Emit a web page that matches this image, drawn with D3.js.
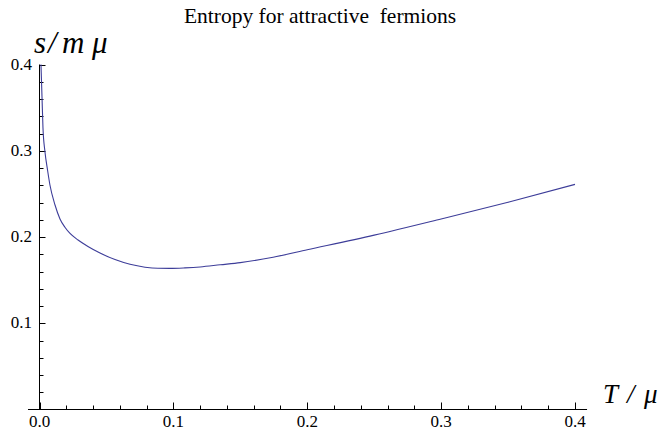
<!DOCTYPE html>
<html>
<head>
<meta charset="utf-8">
<script src="https://cdn.jsdelivr.net/npm/d3@7"></script>
<style>
  html, body { margin: 0; padding: 0; background: #fff; }
</style>
</head>
<body>
<svg id="chart" width="661" height="430"></svg>
<script>
// Entropy per particle s/(m mu) against temperature T/mu
const tempValues = [0.0011, 0.0019, 0.0026, 0.0041, 0.006, 0.0078, 0.0116, 0.0153, 0.019, 0.0228, 0.0288, 0.0362,
                    0.0452, 0.0564, 0.0676, 0.0788, 0.0885, 0.0975, 0.1087, 0.12, 0.135, 0.15,
                    0.1745, 0.2, 0.25, 0.3, 0.35, 0.4];
const entropyValues = [0.4, 0.361, 0.3264, 0.2986, 0.2777, 0.2603, 0.2371, 0.2209, 0.2113, 0.2041, 0.1965, 0.189,
                       0.1814, 0.1738, 0.1683, 0.165, 0.1637, 0.1636, 0.1642, 0.1653, 0.1678, 0.1703,
                       0.1766, 0.1852, 0.2022, 0.2209, 0.2402, 0.261];
const xMajorTicks = [0, 0.1, 0.2, 0.3, 0.4];
const yMajorTicks = [0.1, 0.2, 0.3, 0.4];
const xTickLabels = ["0.0", "0.1", "0.2", "0.3", "0.4"];
const yTickLabels = ["0.1", "0.2", "0.3", "0.4"];
const titleText = "Entropy for attractive  fermions";

const SERIF = "'Liberation Serif', 'Times New Roman', Times, 'DejaVu Serif', serif";

const svg = d3.select("#chart");

const x = d3.scaleLinear().domain([0, 0.4]).range([39.5, 575]);
const y = d3.scaleLinear().domain([0, 0.4]).range([409.5, 64.5]);

const minorX = d3.range(0, 0.4001, 0.02).filter(v => !xMajorTicks.some(m => Math.abs(m - v) < 1e-9));
const minorY = d3.range(0.02, 0.4001, 0.02).filter(v => !yMajorTicks.some(m => Math.abs(m - v) < 1e-9));

// x axis line, padded slightly beyond the data range
svg.append("line")
  .attr("x1", x(-0.0086)).attr("x2", x(0.409))
  .attr("y1", y(0)).attr("y2", y(0))
  .attr("stroke", "#000").attr("stroke-width", 1);

// y axis line
svg.append("line")
  .attr("x1", x(0)).attr("x2", x(0))
  .attr("y1", y(0)).attr("y2", y(0.4))
  .attr("stroke", "#000").attr("stroke-width", 1);

// x ticks point up into the plot
const xt = svg.append("g");
xt.selectAll("line.maj").data(xMajorTicks).join("line")
  .attr("x1", d => Math.round(x(d)) + 0.5).attr("x2", d => Math.round(x(d)) + 0.5)
  .attr("y1", y(0)).attr("y2", y(0) - 7)
  .attr("stroke", "#000").attr("stroke-width", 1);
xt.selectAll("line.min").data(minorX).join("line")
  .attr("x1", d => Math.round(x(d)) + 0.5).attr("x2", d => Math.round(x(d)) + 0.5)
  .attr("y1", y(0)).attr("y2", y(0) - 4)
  .attr("stroke", "#000").attr("stroke-width", 1);
xt.selectAll("text").data(xMajorTicks).join("text")
  .attr("x", d => x(d)).attr("y", 427)
  .attr("text-anchor", "middle")
  .attr("font-family", SERIF)
  .attr("font-size", 17)
  .text((d, i) => xTickLabels[i]);

// y ticks point right into the plot
const yt = svg.append("g");
yt.selectAll("line.maj").data(yMajorTicks).join("line")
  .attr("x1", x(0)).attr("x2", x(0) + 6)
  .attr("y1", d => Math.round(y(d)) + 0.5).attr("y2", d => Math.round(y(d)) + 0.5)
  .attr("stroke", "#000").attr("stroke-width", 1);
yt.selectAll("line.min").data(minorY).join("line")
  .attr("x1", x(0)).attr("x2", x(0) + 4)
  .attr("y1", d => Math.round(y(d)) + 0.5).attr("y2", d => Math.round(y(d)) + 0.5)
  .attr("stroke", "#000").attr("stroke-width", 1);
yt.selectAll("text").data(yMajorTicks).join("text")
  .attr("x", 32).attr("y", d => y(d) + 5)
  .attr("text-anchor", "end")
  .attr("font-family", SERIF)
  .attr("font-size", 17)
  .text((d, i) => yTickLabels[i]);

// entropy curve
const pts = tempValues.map((t, i) => [t, entropyValues[i]]);
const line = d3.line()
  .x(d => x(d[0]))
  .y(d => y(d[1]))
  .curve(d3.curveMonotoneX);
svg.append("path")
  .datum(pts)
  .attr("d", line)
  .attr("fill", "none")
  .attr("stroke", "#3d3d99")
  .attr("stroke-width", 1.1);

// title
svg.append("text")
  .attr("x", 320).attr("y", 23)
  .attr("text-anchor", "middle")
  .attr("font-family", SERIF)
  .attr("font-size", 21.5)
  .attr("xml:space", "preserve")
  .style("white-space", "pre")
  .text(titleText);

// axis labels, set glyph by glyph like typeset math
const yLab = svg.append("text")
  .attr("y", 53)
  .attr("font-family", SERIF)
  .attr("font-size", 31)
  .attr("font-style", "italic");
[["s", 34], ["/", 48], ["m", 62], ["μ", 92]].forEach(([ch, px]) =>
  yLab.append("tspan").attr("x", px).text(ch));

const xLab = svg.append("text")
  .attr("y", 403)
  .attr("font-family", SERIF)
  .attr("font-size", 27)
  .attr("font-style", "italic");
[["T", 603], ["/", 627], ["μ", 644]].forEach(([ch, px]) =>
  xLab.append("tspan").attr("x", px).text(ch));
</script>
</body>
</html>
